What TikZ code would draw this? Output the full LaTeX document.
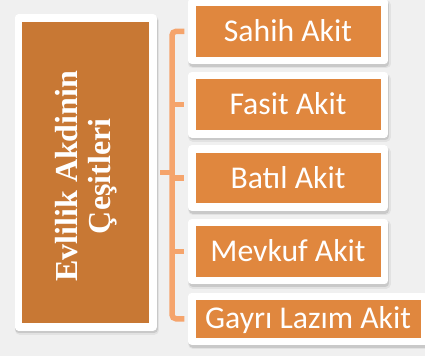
\documentclass[tikz,border=0pt]{standalone}
\usepackage{fontspec}
\setmainfont{Liberation Serif}
\newfontfamily\calfont{Carlito}
\definecolor{bgc}{HTML}{F0F0F0}
\definecolor{mainor}{HTML}{C87834}
\definecolor{boxor}{HTML}{E0873E}
\definecolor{linec}{HTML}{F5A46C}
\definecolor{shc}{HTML}{808080}
\tikzset{
  framebox/.style={draw=white, fill=#1, line width=7.5pt, line join=round, inner sep=0pt,
    preaction={draw=shc, fill=shc, line width=10pt, line join=round, opacity=0.12,
      transform canvas={xshift=1.5pt,yshift=-3pt}},
    preaction={draw=shc, fill=shc, line width=8pt, line join=round, opacity=0.25,
      transform canvas={xshift=1pt,yshift=-2.5pt}}},
  itembox/.style={framebox=boxor, minimum width=192.5pt, minimum height=58.2pt,
    text=white, font=\calfont\fontsize{31.7}{34}\selectfont, text height=20.4pt, text depth=0pt},
  conn/.style={draw=linec, line width=5.5pt}
}
\begin{document}
\begin{tikzpicture}[x=1pt,y=1pt]
\fill[bgc] (0,0) rectangle (425,356);
\useasboundingbox (0,0) rectangle (425,356);
\coordinate (tj) at (172,183.5);
\node[framebox=mainor, minimum width=134.5pt, minimum height=308.5pt] (m) at (85.5,183.5) {};
\node[rotate=90, align=center, text=white, inner sep=0pt,
  font=\bfseries\fontsize{32}{33}\selectfont] (mt) at (86,179.7) {Evlilik Akdinin\\Çeşitleri};
\node[itembox] (b1) at (288,324.65) {Sahih Akit};
\node[itembox] (b2) at (288,251.3) {Fasit Akit};
\node[itembox] (b3) at (288,177.85) {Batıl Akit};
\node[itembox] (b4) at (288,104.4) {Mevkuf Akit};
\node[itembox, minimum width=232.7pt, minimum height=45pt] (b5) at (308.1,37.25) {Gayrı Lazım Akit};
\draw[conn, rounded corners=4pt] ([xshift=-3.75pt]b1.west) -| (tj) |- ([xshift=-3.75pt]b5.west);
\draw[conn] ([xshift=3.75pt]m.east) -- (tj);
\draw[conn] (tj |- b2.west) -- ([xshift=-3.75pt]b2.west);
\draw[conn] (tj |- b3.west) -- ([xshift=-3.75pt]b3.west);
\draw[conn] (tj |- b4.west) -- ([xshift=-3.75pt]b4.west);
\end{tikzpicture}
\end{document}
